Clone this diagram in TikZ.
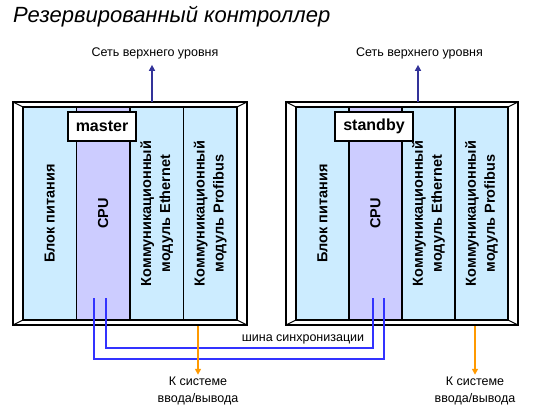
\documentclass[tikz,border=0pt]{standalone}
\usepackage{fontspec}
\setmainfont{Liberation Sans}
\usetikzlibrary{arrows.meta,calc}
\definecolor{modblue}{RGB}{204,236,255}
\definecolor{cpuviolet}{RGB}{204,204,255}
\definecolor{syncblue}{RGB}{51,51,255}
\definecolor{netnavy}{RGB}{51,51,153}
\definecolor{ioorange}{RGB}{255,153,0}
\begin{document}
\begin{tikzpicture}[x=1pt,y=-1pt,
  frameouter/.style={draw=black,line width=2pt,fill=white,inner sep=0pt,minimum width=234pt,minimum height=223pt},
  bevel/.style={draw=black,line width=1pt},
  module/.style={draw=black,line width=1.6pt,fill=modblue,rotate=90,minimum width=213pt,inner sep=0pt,align=center,font=\fontsize{14.5}{19}\selectfont\bfseries},
  cpumod/.style={module,fill=cpuviolet},
  tag/.style={draw=black,line width=1.6pt,fill=white,minimum height=29pt,inner sep=0pt,font=\fontsize{16}{18}\selectfont\bfseries},
  small/.style={font=\fontsize{12.5}{17}\selectfont,align=center,inner sep=0pt},
  netarrow/.style={draw=netnavy,line width=1.6pt,-{Triangle[width=6pt,length=6pt]}},
  ioarrow/.style={draw=ioorange,line width=1.6pt,-{Triangle[width=6pt,length=6pt]}},
  syncline/.style={draw=syncblue,line width=1.8pt}
]
\useasboundingbox (0,0) rectangle (535,415);

% title
\node[anchor=base west,inner sep=0pt,font=\fontsize{22}{25}\selectfont\itshape] (title) at (13,22) {Резервированный контроллер};

% ---------- left controller ----------
\node[frameouter] (f1) at (130,213.5) {};
\draw[bevel] (13,102) -- (23,107) (247,102) -- (237,107) (13,325) -- (23,320) (247,325) -- (237,320);
\node[module,minimum height=53.5pt] (p1) at (49.75,213.5) {Блок питания};
\node[cpumod,minimum height=53.5pt] (c1) at (103.25,213.5) {CPU};
\node[module,minimum height=53.5pt] (e1) at (156.75,213.5) {Коммуникационный\\модуль Ethernet};
\node[module,minimum height=53.5pt] (b1) at (210.25,213.5) {Коммуникационный\\модуль Profibus};
\node[tag,minimum width=68pt] (t1) at (102,126.5) {master};

% ---------- right controller ----------
\node[frameouter,minimum width=232pt] (f2) at (402,213.5) {};
\draw[bevel] (286,102) -- (296,107) (518,102) -- (508,107) (286,325) -- (296,320) (518,325) -- (508,320);
\node[module,minimum height=53pt] (p2) at (322.5,213.5) {Блок питания};
\node[cpumod,minimum height=53pt] (c2) at (375.5,213.5) {CPU};
\node[module,minimum height=53pt] (e2) at (428.5,213.5) {Коммуникационный\\модуль Ethernet};
\node[module,minimum height=53pt] (b2) at (481.5,213.5) {Коммуникационный\\модуль Profibus};
\node[tag,minimum width=78pt] (t2) at (374,126.5) {standby};

% ---------- upper network ----------
\node[small] (n1) at (155,53) {Сеть верхнего уровня};
\node[small] (n2) at (419.5,53) {Сеть верхнего уровня};
\coordinate (u1) at (152,102);
\coordinate (u2) at (418,102);
\draw[netarrow] (u1) -- (u1 |- n1.south) [shorten >=6pt];
\draw[netarrow] (u2) -- (u2 |- n2.south) [shorten >=6pt];

% ---------- sync bus ----------
\coordinate (a1) at (94,298);
\coordinate (a2) at (106,298);
\coordinate (s1) at (373,298);
\coordinate (s2) at (384,298);
\draw[syncline] (a1) -- ($(a1)+(0,61)$) -| (s2);
\draw[syncline] (a2) -- ($(a2)+(0,50)$) -| (s1);
\node[small] (sb) at (303,339) {шина синхронизации};

% ---------- I/O ----------
\node[small] (io1) at (198,391) {К системе\\ввода/вывода};
\node[small] (io2) at (475,391) {К системе\\ввода/вывода};
\coordinate (d1) at (198,326);
\coordinate (d2) at (475,326);
\draw[ioarrow] (d1) -- (d1 |- io1.north) [shorten >=2pt];
\draw[ioarrow] (d2) -- (d2 |- io2.north) [shorten >=2pt];
\end{tikzpicture}
\end{document}
